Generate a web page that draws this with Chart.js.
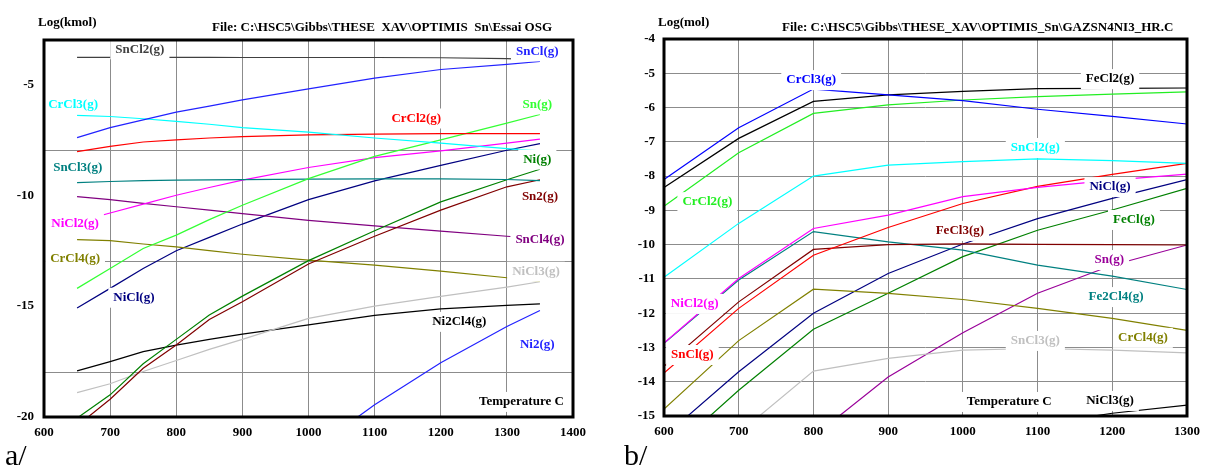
<!DOCTYPE html>
<html>
<head>
<meta charset="utf-8">
<script src="https://cdn.jsdelivr.net/npm/chart.js@4/dist/chart.umd.min.js"></script>
<style>
  body { margin: 0; background: #fff; width: 1208px; height: 466px; overflow: hidden; position: relative;
         font-family: "Liberation Serif", "Times New Roman", serif; }
  .cv { position: absolute; top: 0; width: 604px; height: 466px; }
  .t { position: absolute; font-weight: bold; font-size: 13px; line-height: 14px; white-space: pre; }
  .cap { position: absolute; font-size: 30px; line-height: 30px; }
</style>
</head>
<body>
<div class="cv" style="left:0"><canvas id="chartA"></canvas></div>
<div class="cv" style="left:604px"><canvas id="chartB"></canvas></div>

<div class="t" style="left:38px;top:15px">Log(kmol)</div>
<div class="t" style="left:212px;top:20px">File: C:\HSC5\Gibbs\THESE  XAV\OPTIMIS  Sn\Essai OSG</div>
<div class="t" style="left:658px;top:15px">Log(mol)</div>
<div class="t" style="left:782px;top:20px">File: C:\HSC5\Gibbs\THESE_XAV\OPTIMIS_Sn\GAZSN4NI3_HR.C</div>
<div class="cap" style="left:5px;top:440px">a/</div>
<div class="cap" style="left:624px;top:440px">b/</div>

<script>
// ---------- panel a : Log(kmol) vs temperature ----------
const aTemps = [650, 700, 750, 800, 850, 900, 1000, 1100, 1200, 1300, 1350];
const aSnCl2  = [-3.78, -3.78, -3.78, -3.78, -3.78, -3.79, -3.79, -3.79, -3.80, -3.84, -3.90];
const aSnCl   = [-7.40, -6.95, -6.60, -6.25, -5.98, -5.70, -5.20, -4.72, -4.33, -4.10, -3.97];
const aCrCl3  = [-6.40, -6.45, -6.55, -6.67, -6.80, -6.95, -7.15, -7.42, -7.65, -7.90, -8.00];
const aCrCl2  = [-8.03, -7.80, -7.60, -7.50, -7.42, -7.36, -7.28, -7.24, -7.22, -7.22, -7.22];
const aSnCl3  = [-9.43, -9.38, -9.34, -9.32, -9.31, -9.30, -9.27, -9.26, -9.26, -9.29, -9.34];
const aNiCl2  = [-11.2, -10.8, -10.4, -10.0, -9.65, -9.32, -8.75, -8.30, -8.00, -7.65, -7.47];
const aSnCl4  = [-10.06, -10.2, -10.37, -10.52, -10.67, -10.83, -11.13, -11.38, -11.62, -11.85, -11.95];
const aSn     = [-14.2, -13.3, -12.4, -11.8, -11.1, -10.45, -9.25, -8.25, -7.50, -6.75, -6.36];
const aNiCl   = [-15.08, -14.2, -13.3, -12.5, -11.9, -11.3, -10.2, -9.35, -8.65, -7.97, -7.67];
const aCrCl4  = [-12.0, -12.05, -12.2, -12.33, -12.5, -12.66, -12.93, -13.15, -13.42, -13.72, -13.88];
const aNi     = [-20.05, -19.0, -17.6, -16.5, -15.4, -14.55, -12.95, -11.6, -10.3, -9.3, -8.83];
const aSn2    = [-20.4, -19.2, -17.8, -16.75, -15.6, -14.8, -13.1, -11.85, -10.67, -9.62, -9.3];
const aNiCl3  = [-18.9, -18.5, -17.95, -17.45, -16.95, -16.5, -15.55, -15.0, -14.56, -14.14, -13.9];
const aNi2Cl4 = [-17.92, -17.5, -17.05, -16.76, -16.5, -16.26, -15.85, -15.42, -15.12, -14.97, -14.9];
const aNi2    = [null, null, null, null, null, null, -21.6, -19.45, -17.55, -15.92, -15.2];
const aYTicks = [-20, -15, -10, -5];
const aYGrid  = [-18, -13, -8, -3];

// ---------- panel b : Log(mol) vs temperature ----------
const bTemps = [600, 700, 800, 900, 1000, 1100, 1200, 1300];
const bCrCl3  = [-8.10, -6.59, -5.46, -5.63, -5.80, -6.05, -6.26, -6.48];
const bFeCl2  = [-8.33, -6.90, -5.82, -5.63, -5.53, -5.45, -5.44, -5.43];
const bCrCl2  = [-8.88, -7.32, -6.17, -5.92, -5.78, -5.68, -5.61, -5.54];
const bSnCl2  = [-10.95, -9.38, -8.00, -7.68, -7.58, -7.50, -7.55, -7.63];
const bNiCl2  = [-12.87, -10.99, -9.53, -9.14, -8.60, -8.33, -8.12, -7.94];
const bSnCl   = [-13.75, -11.86, -10.31, -9.50, -8.80, -8.30, -7.95, -7.63];
const bFeCl3  = [-13.55, -11.67, -10.14, -10.00, -9.98, -9.99, -10.00, -10.01];
const bFe2Cl4 = [-12.88, -11.03, -9.62, -9.92, -10.16, -10.60, -10.92, -11.31];
const bCrCl4  = [-14.80, -12.80, -11.30, -11.42, -11.60, -11.86, -12.15, -12.50];
const bNiCl   = [-15.60, -13.71, -12.00, -10.84, -9.98, -9.24, -8.65, -8.10];
const bFeCl   = [-16.20, -14.25, -12.47, -11.42, -10.35, -9.58, -8.99, -8.36];
const bSnCl3  = [-17.40, -15.50, -13.69, -13.32, -13.08, -13.03, -13.08, -13.16];
const bSn     = [null, null, -15.60, -13.86, -12.57, -11.42, -10.60, -10.01];
const bNiCl3  = [null, null, null, null, null, -15.25, -14.92, -14.68];
const bYTicks = [-15, -14, -13, -12, -11, -10, -9, -8, -7, -6, -5, -4];

const FONT = '"Liberation Serif", "Times New Roman", serif';

const seriesA = [
  { name: 'SnCl2(g)',  data: aSnCl2,  color: '#404040', lx: 745,  ly: -3.42 },
  { name: 'SnCl(g)',   data: aSnCl,   color: '#2222ff', lx: 1346, ly: -3.51 },
  { name: 'CrCl3(g)',  data: aCrCl3,  color: '#00ffff', lx: 644,  ly: -5.90 },
  { name: 'CrCl2(g)',  data: aCrCl2,  color: '#ff0000', lx: 1163, ly: -6.54 },
  { name: 'Sn(g)',     data: aSn,     color: '#33ff33', lx: 1346, ly: -5.90 },
  { name: 'SnCl3(g)',  data: aSnCl3,  color: '#008080', lx: 651,  ly: -8.75 },
  { name: 'Ni(g)',     data: aNi,     color: '#008000', lx: 1346, ly: -8.39 },
  { name: 'Sn2(g)',    data: aSn2,    color: '#800000', lx: 1350, ly: -10.06 },
  { name: 'NiCl2(g)',  data: aNiCl2,  color: '#ff00ff', lx: 647,  ly: -11.28 },
  { name: 'SnCl4(g)',  data: aSnCl4,  color: '#800080', lx: 1350, ly: -12.0 },
  { name: 'CrCl4(g)',  data: aCrCl4,  color: '#808000', lx: 647,  ly: -12.86 },
  { name: 'NiCl3(g)',  data: aNiCl3,  color: '#c0c0c0', lx: 1344, ly: -13.45 },
  { name: 'NiCl(g)',   data: aNiCl,   color: '#000080', lx: 736,  ly: -14.62 },
  { name: 'Ni2Cl4(g)', data: aNi2Cl4, color: '#000000', lx: 1228, ly: -15.71 },
  { name: 'Ni2(g)',    data: aNi2,    color: '#2222ff', lx: 1346, ly: -16.75 }
];
const seriesB = [
  { name: 'CrCl3(g)',  data: bCrCl3,  color: '#0000ff', lx: 797,  ly: -5.20 },
  { name: 'FeCl2(g)',  data: bFeCl2,  color: '#000000', lx: 1197, ly: -5.17 },
  { name: 'CrCl2(g)',  data: bCrCl2,  color: '#22ee22', lx: 658,  ly: -8.76 },
  { name: 'SnCl2(g)',  data: bSnCl2,  color: '#00ffff', lx: 1097, ly: -7.18 },
  { name: 'NiCl2(g)',  data: bNiCl2,  color: '#ff00ff', lx: 641,  ly: -11.73 },
  { name: 'SnCl(g)',   data: bSnCl,   color: '#ff0000', lx: 638,  ly: -13.22 },
  { name: 'FeCl3(g)',  data: bFeCl3,  color: '#800000', lx: 996,  ly: -9.60 },
  { name: 'Fe2Cl4(g)', data: bFe2Cl4, color: '#008080', lx: 1205, ly: -11.53 },
  { name: 'CrCl4(g)',  data: bCrCl4,  color: '#808000', lx: 1241, ly: -12.72 },
  { name: 'NiCl(g)',   data: bNiCl,   color: '#000080', lx: 1197, ly: -8.32 },
  { name: 'FeCl(g)',   data: bFeCl,   color: '#008000', lx: 1229, ly: -9.28 },
  { name: 'SnCl3(g)',  data: bSnCl3,  color: '#c0c0c0', lx: 1097, ly: -12.81 },
  { name: 'Sn(g)',     data: bSn,     color: '#990099', lx: 1196, ly: -10.45 },
  { name: 'NiCl3(g)',  data: bNiCl3,  color: '#000000', lx: 1197, ly: -14.56 }
];

// series names written on the plot, on a white box, plus the axis caption
const labelPlugin = {
  id: 'seriesLabels',
  afterDatasetsDraw(chart, args, opts) {
    const ctx = chart.ctx, xs = chart.scales.x, ys = chart.scales.y;
    ctx.save();
    ctx.font = 'bold 13px ' + FONT;
    ctx.textAlign = 'center';
    ctx.textBaseline = 'middle';
    opts.items.forEach(it => {
      const px = xs.getPixelForValue(it.lx), py = ys.getPixelForValue(it.ly);
      const w = ctx.measureText(it.name).width;
      ctx.fillStyle = '#fff';
      ctx.fillRect(px - w / 2 - 5, py - 10, w + 10, 20);
      ctx.fillStyle = it.color;
      ctx.fillText(it.name, px, py);
    });
    ctx.restore();
  }
};

const framePlugin = {
  id: 'frame',
  afterDraw(chart) {
    const a = chart.chartArea, ctx = chart.ctx;
    ctx.save();
    ctx.strokeStyle = '#000';
    ctx.lineWidth = 3;
    ctx.strokeRect(a.left, a.top, a.right - a.left, a.bottom - a.top);
    ctx.restore();
  }
};

function makePanel(id, temps, series, extra, cfg) {
  const datasets = series.map(s => ({
    label: s.name,
    data: temps.map((t, i) => ({ x: t, y: s.data[i] })),
    borderColor: s.color,
    borderWidth: 1.2,
    pointRadius: 0,
    fill: false,
    tension: 0,
    spanGaps: false
  }));
  const items = series.map(s => ({ name: s.name, color: s.color, lx: s.lx, ly: s.ly })).concat(extra);
  const edge = v => (v === cfg.xMin || v === cfg.xMax);
  const scales = {
    x: {
      type: 'linear', min: cfg.xMin, max: cfg.xMax,
      ticks: { stepSize: 100, color: '#000', padding: 8, maxRotation: 0,
               callback: v => String(v),
               font: { family: FONT, size: 13, weight: 'bold' } },
      grid: { color: c => edge(c.tick.value) ? 'rgba(0,0,0,0)' : '#8c8c8c', drawTicks: false, lineWidth: 1 },
      border: { display: false },
      afterFit: s => { s.height = cfg.xAxisH; }
    },
    y: {
      type: 'linear', min: cfg.yMin, max: cfg.yMax,
      afterBuildTicks: s => { s.ticks = cfg.yTicks.map(v => ({ value: v })); },
      ticks: { color: '#000', padding: cfg.yPad, callback: v => String(v),
               font: { family: FONT, size: 13, weight: 'bold' } },
      grid: { display: cfg.yGrid ? false : true, drawTicks: false,
              color: c => (c.tick.value === cfg.yMin || c.tick.value === cfg.yMax) ? 'rgba(0,0,0,0)' : '#8c8c8c' },
      border: { display: false },
      afterFit: s => { s.width = cfg.yAxisW; }
    }
  };
  if (cfg.yGrid) {
    scales.g = {
      type: 'linear', position: 'left', min: cfg.yMin, max: cfg.yMax,
      afterBuildTicks: s => { s.ticks = cfg.yGrid.map(v => ({ value: v })); },
      ticks: { display: false },
      grid: { color: '#8c8c8c', drawTicks: false },
      border: { display: false },
      afterFit: s => { s.width = 0; }
    };
  }
  return new Chart(document.getElementById(id), {
    type: 'line',
    data: { datasets },
    options: {
      responsive: true, maintainAspectRatio: false, animation: false,
      layout: { padding: { top: cfg.top, right: cfg.right, left: 0, bottom: 0 } },
      scales,
      plugins: { legend: { display: false }, tooltip: { enabled: false },
                 seriesLabels: { items } }
    },
    plugins: [labelPlugin, framePlugin]
  });
}

makePanel('chartA', aTemps, seriesA,
  [{ name: 'Temperature C', color: '#000', lx: 1322, ly: -19.32 }],
  { xMin: 600, xMax: 1400, yMin: -20, yMax: -3, yTicks: aYTicks, yGrid: aYGrid,
    top: 40, right: 31, xAxisH: 49, yAxisW: 44, yPad: 10 });

makePanel('chartB', bTemps, seriesB,
  [{ name: 'Temperature C', color: '#000', lx: 1062, ly: -14.59 }],
  { xMin: 600, xMax: 1300, yMin: -15, yMax: -4, yTicks: bYTicks, yGrid: null,
    top: 39, right: 14, xAxisH: 50, yAxisW: 60, yPad: 9 });
</script>
</body>
</html>
